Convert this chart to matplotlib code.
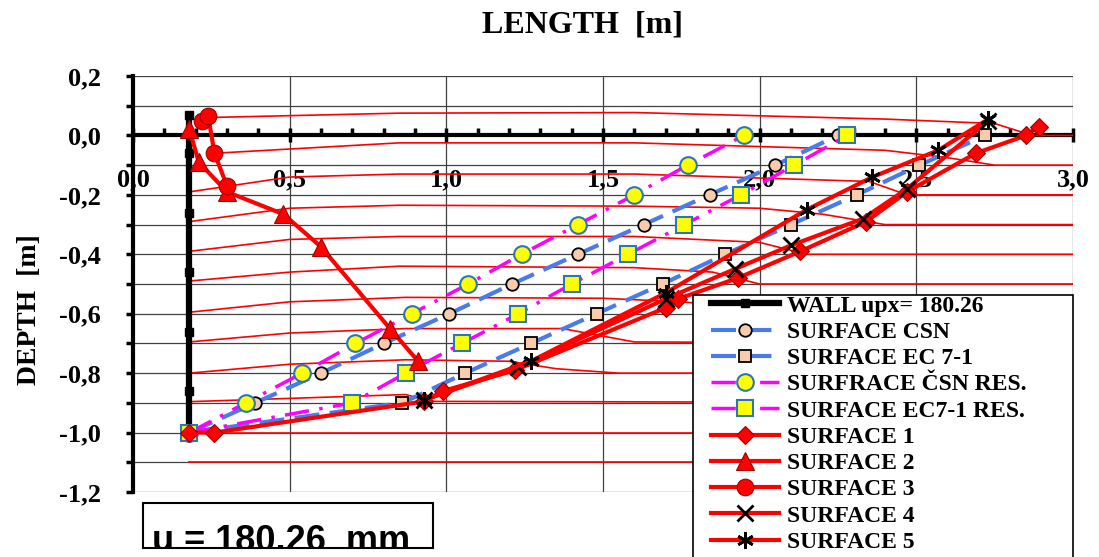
import numpy as np
import matplotlib
matplotlib.use('Agg')
import matplotlib.pyplot as plt
from matplotlib.ticker import MultipleLocator, FuncFormatter
from matplotlib.patches import Rectangle

plt.rcParams['font.family'] = 'Liberation Serif'
plt.rcParams['font.weight'] = 'bold'

W, H = 1099, 557

# wall (u = 180.26 mm)
wall_x = [0.18, 0.18, 0.18, 0.18, 0.18, 0.18, 0.18]
wall_y = [0.07, -0.06, -0.26, -0.46, -0.66, -0.86, -1.0]

# analytical surfaces
csn_x = [0.18, 0.39, 0.60, 0.80, 1.01, 1.21, 1.42, 1.63, 1.84, 2.05, 2.25]
csn_y = [-1.0, -0.9, -0.8, -0.7, -0.6, -0.5, -0.4, -0.3, -0.2, -0.1, 0.0]
ec_x = [0.18, 0.86, 1.06, 1.27, 1.48, 1.69, 1.89, 2.10, 2.31, 2.51, 2.72]
ec_y = [-1.0, -0.9, -0.8, -0.7, -0.6, -0.5, -0.4, -0.3, -0.2, -0.1, 0.0]
csn_res_x = [0.18, 0.36, 0.54, 0.71, 0.89, 1.07, 1.24, 1.42, 1.60, 1.77, 1.95]
csn_res_y = [-1.0, -0.9, -0.8, -0.7, -0.6, -0.5, -0.4, -0.3, -0.2, -0.1, 0.0]
ec_res_x = [0.18, 0.70, 0.87, 1.05, 1.23, 1.40, 1.58, 1.76, 1.94, 2.11, 2.28]
ec_res_y = [-1.0, -0.9, -0.8, -0.7, -0.6, -0.5, -0.4, -0.3, -0.2, -0.1, 0.0]

# measured surfaces
s1_x = [0.18, 0.26, 0.93, 0.99, 1.22, 1.70, 1.74, 1.93, 2.13, 2.34, 2.47, 2.69, 2.85, 2.89]
s1_y = [-1.0, -1.0, -0.895, -0.86, -0.79, -0.58, -0.55, -0.48, -0.39, -0.29, -0.19, -0.06, 0.0, 0.03]
s2_x = [0.18, 0.21, 0.30, 0.48, 0.60, 0.82, 0.91]
s2_y = [0.02, -0.09, -0.19, -0.265, -0.375, -0.65, -0.76]
s3_x = [0.22, 0.24, 0.26, 0.30]
s3_y = [0.05, 0.065, -0.06, -0.17]
s4_x = [0.93, 1.23, 1.70, 1.92, 2.10, 2.33, 2.47, 2.73]
s4_y = [-0.89, -0.78, -0.55, -0.45, -0.37, -0.28, -0.18, 0.05]
s5_x = [0.93, 1.27, 1.70, 2.15, 2.36, 2.57, 2.73]
s5_y = [-0.89, -0.76, -0.53, -0.25, -0.14, -0.05, 0.055]

# deformed mesh lines
mesh = [
    ([0.23, 0.85, 1.6, 2.4, 2.75, 2.87, 3.0], [0.06, 0.075, 0.077, 0.055, 0.04, 0.0, 0.0]),
    ([0.26, 0.85, 1.6, 2.4, 2.6, 2.75, 3.0], [-0.06, -0.025, -0.025, -0.05, -0.075, -0.1, -0.1]),
    ([0.18, 0.5, 0.85, 1.6, 2.35, 2.47, 3.0], [-0.19, -0.14, -0.13, -0.13, -0.155, -0.2, -0.2]),
    ([0.18, 0.5, 0.85, 1.6, 2.0, 2.2, 2.4, 3.0], [-0.29, -0.245, -0.235, -0.238, -0.245, -0.265, -0.3, -0.3]),
    ([0.18, 0.5, 0.85, 1.6, 2.0, 2.15, 3.0], [-0.39, -0.35, -0.34, -0.34, -0.36, -0.4, -0.4]),
    ([0.18, 0.5, 0.85, 1.6, 1.85, 2.0, 3.0], [-0.49, -0.46, -0.44, -0.445, -0.46, -0.5, -0.5]),
    ([0.18, 0.5, 0.87, 1.5, 1.75, 2.2, 3.0], [-0.595, -0.56, -0.545, -0.548, -0.56, -0.6, -0.6]),
    ([0.18, 0.5, 0.87, 1.37, 1.6, 3.0], [-0.695, -0.665, -0.65, -0.65, -0.695, -0.7]),
    ([0.18, 0.5, 0.87, 1.2, 1.35, 1.55, 3.0], [-0.8, -0.77, -0.755, -0.76, -0.785, -0.8, -0.8]),
    ([0.18, 0.5, 0.87, 0.95, 3.0], [-0.896, -0.885, -0.872, -0.895, -0.9]),
    ([0.18, 3.0], [-1.0, -1.0]),
    ([0.18, 3.0], [-1.1, -1.1]),
]

fig = plt.figure(figsize=(W / 100, H / 100), dpi=100)
ax = fig.add_axes([133 / W, 1 - 492 / H, 940 / W, 416 / H])
ax.set_xlim(0, 3.0)
ax.set_ylim(-1.2, 0.2)

blue = '#4A7BEA'
peach = '#F8CBAD'
ybord = '#2E75B6'

for mx, my in mesh:
    ax.plot(mx, my, color='red', lw=1.2, zorder=2)

ax.plot(wall_x, wall_y, color='black', lw=4.5, marker='s', ms=6, zorder=3,
        label='WALL upx= 180.26')
ax.plot(csn_x, csn_y, color=blue, lw=3, dashes=(6, 2.5), marker='o', ms=9,
        mfc=peach, mec='black', mew=1.3, zorder=4, label='SURFACE CSN')
ax.plot(ec_x, ec_y, color=blue, lw=3, dashes=(6, 2.5), marker='s', ms=8,
        mfc=peach, mec='black', mew=1.3, zorder=4, label='SURFACE EC 7-1')
ax.plot(csn_res_x, csn_res_y, color='magenta', lw=2.5, dashes=(7, 3, 1, 3), marker='o', ms=12,
        mfc='yellow', mec=ybord, mew=1.5, zorder=4, label='SURFRACE ČSN RES.')
ax.plot(ec_res_x, ec_res_y, color='magenta', lw=2.5, dashes=(7, 3, 1, 3), marker='s', ms=11,
        mfc='yellow', mec=ybord, mew=1.5, zorder=4, label='SURFACE EC7-1 RES.')
ax.plot(s1_x, s1_y, color='red', lw=3, marker='D', ms=9, mfc='red', mec='#A00000',
        mew=0.8, zorder=5, label='SURFACE 1')
ax.plot(s2_x, s2_y, color='red', lw=3, marker='^', ms=13, mfc='red', mec='#A00000',
        mew=0.8, zorder=5, label='SURFACE 2')
ax.plot(s3_x, s3_y, color='red', lw=3, marker='o', ms=12, mfc='red', mec='#A00000',
        mew=0.8, zorder=5, label='SURFACE 3')
ax.plot(s4_x, s4_y, color='red', lw=3, marker='x', ms=11, mec='black', mew=2,
        zorder=5, label='SURFACE 4')
ax.plot(s5_x, s5_y, color='red', lw=3, marker=(6, 2, 0), ms=12, mec='black', mew=2,
        zorder=5, label='SURFACE 5')

# axes look (x axis crossing at depth 0)
for s in ['top', 'right']:
    ax.spines[s].set_visible(False)
ax.spines['bottom'].set_position(('data', 0))
ax.spines['bottom'].set_linewidth(3)
ax.spines['left'].set_linewidth(3)
ax.spines['bottom'].set_zorder(1.8)
ax.spines['left'].set_zorder(1.8)

ax.xaxis.set_major_locator(MultipleLocator(0.5))
ax.xaxis.set_minor_locator(MultipleLocator(0.1))
ax.yaxis.set_major_locator(MultipleLocator(0.2))
ax.yaxis.set_minor_locator(MultipleLocator(0.1))
fmt = FuncFormatter(lambda v, p: ('%.1f' % (0.0 if abs(v) < 1e-9 else v)).replace('.', ','))
ax.xaxis.set_major_formatter(fmt)
ax.yaxis.set_major_formatter(fmt)

ax.tick_params(axis='x', which='major', direction='inout', length=10, width=2.5,
               pad=19, labelsize=19)
ax.tick_params(axis='x', which='minor', direction='in', length=5, width=2.5)
ax.tick_params(axis='y', which='both', direction='out', length=5, width=2.5)
ax.tick_params(axis='y', which='major', pad=18, labelsize=19)
ax.xaxis.set_zorder(1.5)

ax.grid(which='major', axis='x', color='#404040', lw=0.9)
ax.grid(which='both', axis='y', color='#404040', lw=0.9)

fig.text(583 / W, 1 - 25 / H, 'LENGTH  [m]', fontsize=23, ha='center', va='center')
fig.text(30 / W, 1 - 310 / H, 'DEPTH  [m]', fontsize=20, rotation=90, ha='center', va='center')

box = Rectangle((143 / W, 1 - 548 / H), 290 / W, 45 / H, transform=fig.transFigure,
                fill=False, ec='black', lw=1.5)
fig.add_artist(box)
t = fig.text(152 / W, 1 - 551 / H, 'u = 180.26  mm', fontsize=26, family='Liberation Sans',
             weight='bold', ha='left', va='baseline')
t.set_clip_path(box)

# legend frame runs past the bottom edge of the figure
frame = Rectangle((693 / W, 1 - 570 / H), 380 / W, 275 / H, transform=fig.transFigure,
                  fc='white', ec='black', lw=1.2, zorder=10)
fig.add_artist(frame)
handles, labels = ax.get_legend_handles_labels()
leg = fig.legend(handles, labels, loc='upper left', bbox_to_anchor=(711 / W, 1 - 295 / H),
                 fontsize=17, frameon=False, handlelength=2.9, handletextpad=0.3,
                 labelspacing=0.2, borderpad=0, borderaxespad=0)
leg.set_zorder(11)

fig.savefig('out.png', dpi=100)
